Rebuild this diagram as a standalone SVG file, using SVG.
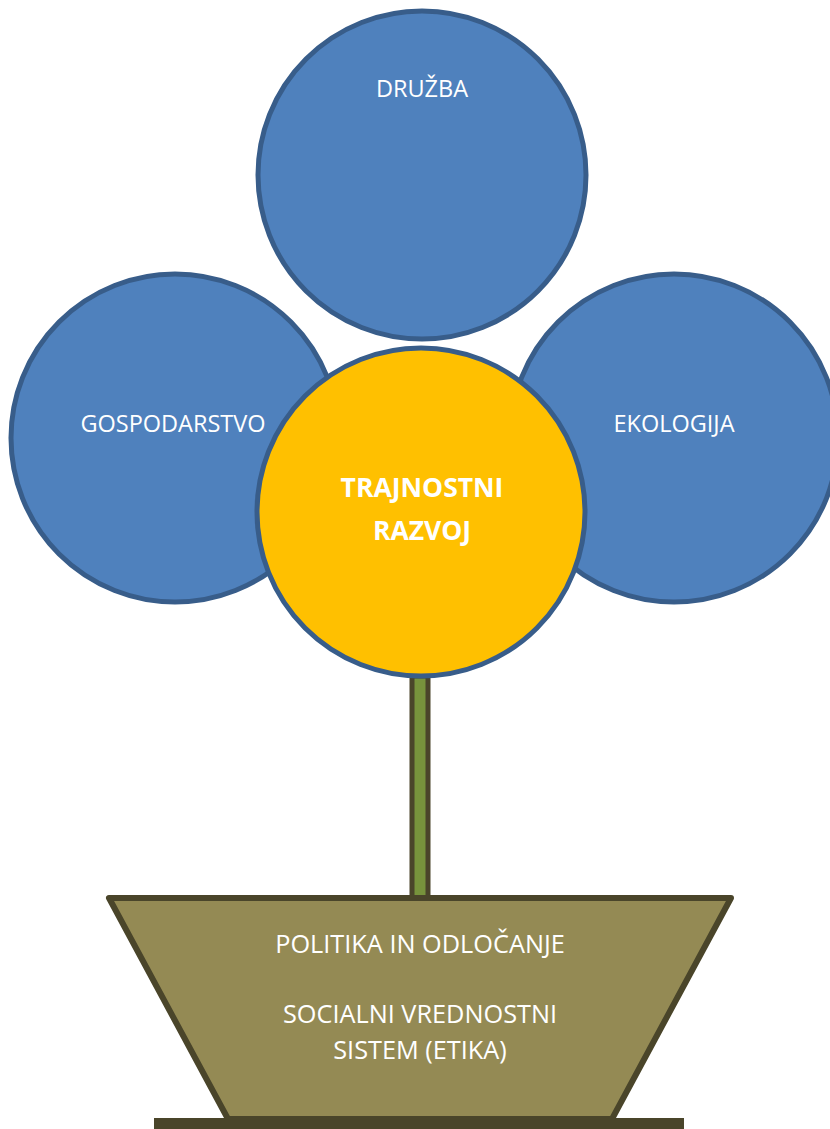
<svg xmlns="http://www.w3.org/2000/svg" width="830" height="1129" viewBox="0 0 830 1129">
  <style>
    .petal { fill: #4F81BD; stroke: #385D8A; stroke-width: 5; }
    .core { fill: #FFC000; stroke: #385D8A; stroke-width: 5; }
    .lbl { font-family: "Open Sans", "Liberation Sans", sans-serif; fill: #FFFFFF; text-anchor: middle; }
    .petal-lbl { font-size: 23.5px; }
    .core-lbl { font-size: 26.5px; font-weight: bold; }
    .pot-lbl { font-size: 25.3px; }
    .olive { fill: #948A54; stroke: #4A452A; stroke-width: 6; stroke-linejoin: round; }
  </style>
  <rect width="830" height="1129" fill="#FFFFFF"/>
  <g id="connectors">
    <rect id="stem" x="412" y="676" width="16" height="222" fill="#77933C" stroke="#4A452A" stroke-width="5"/>
  </g>
  <g id="gospodarstvo">
    <circle class="petal" cx="175" cy="438" r="164"/>
    <text class="lbl petal-lbl" x="173" y="432">GOSPODARSTVO</text>
  </g>
  <g id="ekologija">
    <circle class="petal" cx="674" cy="438" r="164"/>
    <text class="lbl petal-lbl" x="674" y="432">EKOLOGIJA</text>
  </g>
  <g id="druzba">
    <circle class="petal" cx="422" cy="175" r="164"/>
    <text class="lbl petal-lbl" x="422" y="97">DRUŽBA</text>
  </g>
  <g id="trajnostni-razvoj">
    <circle class="core" cx="421" cy="512" r="164"/>
    <text class="lbl core-lbl" x="422" y="497">TRAJNOSTNI</text>
    <text class="lbl core-lbl" x="422" y="540">RAZVOJ</text>
  </g>
  <g id="pot">
    <polygon class="olive" points="109,898 731,898 612,1119 228,1119"/>
    <rect x="154" y="1118" width="530" height="11" fill="#4A452A"/>
    <text class="lbl pot-lbl" x="420" y="953">POLITIKA IN ODLOČANJE</text>
    <text class="lbl pot-lbl" x="420" y="1023">SOCIALNI VREDNOSTNI</text>
    <text class="lbl pot-lbl" x="420" y="1059">SISTEM (ETIKA)</text>
  </g>
</svg>
